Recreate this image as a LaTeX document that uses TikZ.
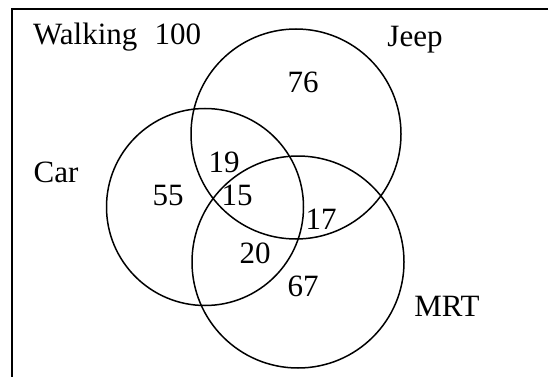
\documentclass[tikz,border=0pt]{standalone}
\usepackage{fontspec}
\setmainfont{Liberation Serif}
\begin{document}
\begin{tikzpicture}[x=1pt,y=-1pt,
  lbl/.style={inner sep=0pt,anchor=base,font=\fontsize{31}{36}\selectfont},
  setc/.style={draw=black,line width=1.5pt,fill=none}]
\useasboundingbox (0,0) rectangle (548,377);
% frame
\coordinate (fr1) at (548,9);
\coordinate (fr2) at (12,9);
\coordinate (fr3) at (12,377);
\draw[line width=1.8pt] (fr1) -- (fr2) -- (fr3);
% circles
\node[setc,circle,minimum size=210pt,inner sep=0pt] (jeep) at (296,134) {};
\node[setc,circle,minimum size=197pt,inner sep=0pt] (car) at (205,207) {};
\node[setc,circle,minimum size=212pt,inner sep=0pt] (mrt) at (298,262) {};
% labels
\node[lbl,anchor=base west] (walk) at (33,45) {Walking\hspace{0.55em}100};
\node[lbl] (jl) at (415,47) {Jeep};
\node[lbl] (cl) at (56,182) {Car};
\node[lbl] (ml) at (447,316) {MRT};
\node[lbl] (n76) at (303,93) {76};
\node[lbl] (n19) at (224,172) {19};
\node[lbl] (n55) at (168,205) {55};
\node[lbl] (n15) at (237,205) {15};
\node[lbl] (n20) at (255,263) {20};
\node[lbl] (n17) at (321,229) {17};
\node[lbl] (n67) at (303,296) {67};
\end{tikzpicture}
\end{document}
